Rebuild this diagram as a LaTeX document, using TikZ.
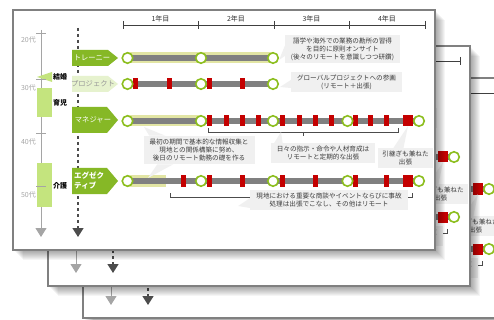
\documentclass[tikz,border=0pt]{standalone}
\usepackage{fontspec}
\setmainfont{Noto Sans CJK JP}
\usetikzlibrary{arrows.meta,calc}

\definecolor{rolegreen}{RGB}{134,184,38}
\definecolor{rolepale}{RGB}{230,242,206}
\definecolor{lifegreen}{RGB}{196,228,126}
\definecolor{ringgreen}{RGB}{140,190,30}
\definecolor{onsite}{RGB}{226,229,164}
\definecolor{bargray}{RGB}{128,128,128}
\definecolor{tripred}{RGB}{196,0,0}
\definecolor{notegray}{RGB}{240,240,240}
\definecolor{notetext}{RGB}{60,60,60}
\definecolor{agegray}{RGB}{165,165,165}
\definecolor{sheetline}{RGB}{128,128,128}

% one career sheet, drawn in pixel-like units
\newcommand{\careersheet}{%
  % years
  \draw[yearaxis] (123,25) -- (425,25);
  \foreach \x in {123,198,274,349,425} \draw[yearaxis] (\x,21) -- (\x,29);
  \foreach \x/\n in {160.5/1,236/2,311.5/3,387/4}
    \node[yearlabel] (year\n) at (\x,19) {{\n}年目};
  % ages and life events
  \draw[ageaxis] (41,30) -- (41,237);
  \fill[lifegreen] (37,77) -- (52,72) -- (52,82) -- cycle;
  \fill[lifegreen] (37,88) rectangle (52,117);
  \fill[lifegreen] (37,163) rectangle (52,207);
  \foreach \t in {33,79,133,186} \draw[agegray, line width=0.8pt] (36,\t) -- (46,\t);
  \node[agelabel] (age20) at (36,40) {20代};
  \node[agelabel] (age30) at (36,88) {30代};
  \node[agelabel] (age40) at (36,142) {40代};
  \node[agelabel] (age50) at (36,195) {50代};
  \node[lifelabel] (marriage) at (52,77) {結婚};
  \node[lifelabel] (childcare) at (52,103) {育児};
  \node[lifelabel] (nursing) at (52,186) {介護};
  \draw[lifeline] (78,28) -- (78,237);
  % roles
  \fill[rolegreen] (72,50) -- (108,50) -- (118,58) -- (108,66) -- (72,66) -- cycle;
  \node[roletext] (trainee) at (92,58) {トレーニー};
  \fill[rolepale] (72,76) -- (108,76) -- (118,84) -- (108,92) -- (72,92) -- cycle;
  \node[roletext, text=black!40] (project) at (93,84) {プロジェクト};
  \fill[rolegreen] (72,107) -- (107,107) -- (118,120) -- (107,133) -- (72,133) -- cycle;
  \node[roletext] (manager) at (93,120) {マネジャー};
  \fill[rolegreen] (72,168) -- (107,168) -- (118,181) -- (107,194) -- (72,194) -- cycle;
  \node[roletext, font=\bfseries\fontsize{7.5}{10}\selectfont, align=left, anchor=west] (exec) at (74,181) {エグゼク\\ティブ};
  % trainee row
  \fill[onsite] (127.5,52.5) rectangle (273,63.5);
  \fill[bargray] (127.5,55) rectangle (273,61);
  \foreach \x [count=\i] in {127.5,201,273} \node[stop] (r1c\i) at (\x,58) {};
  % project row
  \fill[bargray] (127.5,81) rectangle (273,87);
  \foreach \x in {135.5,169.5,209.5,242.5} \fill[tripred] ({\x-2.5},78.5) rectangle ({\x+2.5},89.5);
  \foreach \x [count=\i] in {127.5,201,273} \node[stop] (r2c\i) at (\x,84) {};
  % manager row
  \fill[onsite] (127.5,115.5) rectangle (201,126.5);
  \fill[bargray] (127.5,118) rectangle (419,124);
  \foreach \x in {209.5,226,242.5,258,282.5,299,315,331,355.5,370.5,386.5}
    \fill[tripred] ({\x-2.5},115.5) rectangle ({\x+2.5},126.5);
  \fill[tripred] (403,115.5) rectangle (413,126.5);
  \coordinate (handover) at (408,126);
  \foreach \x [count=\i] in {127.5,201,273,347.5,419} \node[stop] (r3c\i) at (\x,121) {};
  \draw[bracket] (208,128) -- (208,132) -- (398,132) -- (398,128);
  \draw[bracket] (303,132) -- (303,136);
  \coordinate (dailytip) at (281,132);
  % executive row
  \fill[onsite] (127.5,175.5) rectangle (166,186.5);
  \fill[bargray] (127.5,178) rectangle (419,184);
  \foreach \x in {183.5,209.5,242.5,282.5,315.5,355.5,386.5}
    \fill[tripred] ({\x-2.5},175.5) rectangle ({\x+2.5},186.5);
  \fill[tripred] (403,175.5) rectangle (413,186.5);
  \foreach \x [count=\i] in {127.5,201,273,347.5,419} \node[stop] (r4c\i) at (\x,181) {};
  \draw[bracket] (170,193) -- (170,197) -- (412,197) -- (412,193);
  \draw[bracket] (291,197) -- (291,201);
  % notes
  \node[note] (onsitenote) at (342.5,49) {語学や海外での業務の勘所の習得\\を目的に原則オンサイト\\(後々のリモートを意識しつつ研鑽)};
  \fill[notegray] ($(onsitenote.west)+(0,-3)$) -- ($(r1c3.east)+(0,2)$) -- ($(onsitenote.west)+(0,7)$) -- cycle;
  \node[note] (globalnote) at (346.5,82) {グローバルプロジェクトへの参画\\(リモート＋出張)};
  \fill[notegray] ($(globalnote.west)+(0,-2)$) -- ($(r2c3.east)+(1,3)$) -- ($(globalnote.west)+(0,6)$) -- cycle;
  \node[note] (firstnote) at (199,150) {最初の期間で基本的な情報収集と\\現地との関係構築に努め、\\後日のリモート勤務の礎を作る};
  \fill[notegray] ($(firstnote.north west)+(6,0)$) -- (144,127) -- ($(firstnote.north west)+(22,0)$) -- cycle;
  \fill[notegray] ($(firstnote.south west)+(14,0)$) -- (148,178) -- ($(firstnote.south west)+(30,0)$) -- cycle;
  \node[note] (dailynote) at (323,153) {日々の指示・命令や人材育成は\\リモートと定期的な出張};
  \fill[notegray] ($(dailynote.north west)+(0,6)$) -- (dailytip) -- ($(dailynote.north west)+(12,0)$) -- cycle;
  \node[note, inner xsep=4pt] (handnote) at (405.5,158) {引継ぎも兼ねた\\出張};
  \fill[notegray] ($(handnote.north)+(-12,0)$) -- (handover) -- ($(handnote.north)+(-2,0)$) -- cycle;
  \node[note] (localnote) at (329,200) {現地における重要な商談やイベントならびに事故\\処理は出張でこなし、その他はリモート};
  \fill[notegray] ($(localnote.west)+(0,-2)$) -- ($(localnote.west)+(-12,6)$) -- ($(localnote.west)+(0,8)$) -- cycle;
}

\begin{document}
\begin{tikzpicture}[x=1pt, y=-1pt,
  stop/.style={circle, draw=ringgreen, line width=1.6pt, fill=white, minimum size=10.5pt, inner sep=0pt},
  note/.style={fill=notegray, text=notetext, font=\fontsize{6.6}{8}\selectfont, align=center, inner xsep=6pt, inner ysep=3pt},
  roletext/.style={text=white, font=\fontsize{7.3}{8.5}\selectfont, inner sep=0pt},
  yearaxis/.style={draw=black!75, line width=0.6pt},
  yearlabel/.style={font=\fontsize{7}{8}\selectfont, text=black!80},
  agelabel/.style={font=\fontsize{7}{8}\selectfont, text=agegray, anchor=east, inner sep=0pt},
  lifelabel/.style={font=\bfseries\fontsize{7}{8}\selectfont, anchor=west, inner sep=1pt},
  ageaxis/.style={agegray, line width=1pt, -{Triangle[width=11pt,length=9pt]}},
  lifeline/.style={black!70, line width=1.5pt, dash pattern=on 3pt off 3pt, -{Triangle[width=11pt,length=9pt]}},
  bracket/.style={draw=black!70, line width=0.7pt},
  sheet/.style={draw=sheetline, line width=2pt}]

\useasboundingbox (0,0) rectangle (494,320);
\fill[white] (0,0) rectangle (494,320);

\foreach \dx/\dy/\pfx in {70/68/c,35/36/b,0/0/a} {
  \begin{scope}[shift={(\dx,\dy)}, name prefix=\pfx-]
    \foreach \k in {1,...,10}
      \fill[black, opacity=0.04] ({13+\k},{10+\k}) rectangle ({435+\k},{250+\k});
    \fill[white] (13,10) rectangle (435,250);
    \begin{scope}
      \clip (13,10) rectangle (435,250);
      \careersheet
    \end{scope}
    \draw[sheet] (13,10) rectangle (435,250);
  \end{scope}
}

\end{tikzpicture}
\end{document}
